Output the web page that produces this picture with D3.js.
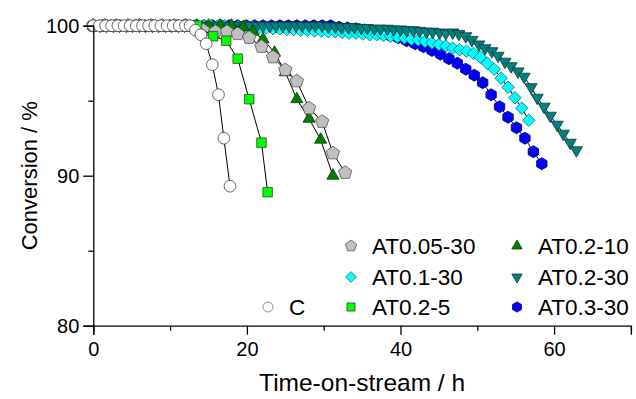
<!DOCTYPE html>
<html>
<head>
<meta charset="utf-8">
<script src="https://cdn.jsdelivr.net/npm/d3@7"></script>
<style>
  html, body { margin: 0; padding: 0; background: #fff; }
  svg { display: block; }
  text { font-family: "Liberation Sans", Arial, sans-serif; fill: #000; }
</style>
</head>
<body>
<svg id="chart" width="636" height="399"></svg>
<script>
// ---------------- DATA ----------------
const xTicks = [0, 20, 40, 60];
const xMinorTicks = [10, 30, 50, 70];
const yTicks = [80, 90, 100];
const yMinorTicks = [85, 95];

// C (white circles)
const tC = [0,0.8,1.6,2.4,3.2,4.0,4.8,5.6,6.4,7.2,8.0,8.8,9.6,10.4,11.2,12.0,12.6,13.3,14.0,14.7,15.5,16.3,17.0,17.8];
const vC = [100,100,100,100,100,100,100,100,100,100,100,100,100,100,100,100,100,99.7,99.4,98.8,97.4,95.4,92.5,89.3];

// AT0.2-5 (green squares)
const tAT02_5 = [0,1.5,3,4.5,6,7.5,9,10.5,12,13.5,15.6,17.3,18.8,20.3,21.9,22.7];
const vAT02_5 = [100,100,100,100,100,100,100,100,100,100,99.3,99.0,97.8,95.1,92.2,88.9];

// AT0.05-30 (grey pentagons)
const tAT005_30 = [0,1.5,3,4.5,6,7.5,9,10.5,12,14.3,15.9,17.4,18.8,20.3,21.9,23.4,25.0,26.5,28.1,29.8,31.2,32.8];
const vAT005_30 = [100,100,100,100,100,100,100,100,100,99.7,99.6,99.6,99.45,99.2,98.6,97.9,97.05,96.3,94.5,93.6,91.5,90.2];

// AT0.2-10 (dark green triangles)
const tAT02_10 = [0,1.5,3,4.5,6,7.5,9,10.5,12,13.5,15,16.5,18,19.5,20.8,22.1,23.6,25.0,26.5,28.1,29.6,31.2];
const vAT02_10 = [100,100,100,100,100,100,100,100,100,100,100,100,100,99.9,99.6,99.1,98.2,96.9,95.1,93.8,92.4,90.0];

// AT0.1-30 (cyan diamonds)
const tAT01_30 = [0,0.9,1.8,2.7,3.6,4.5,5.4,6.3,7.2,8.1,9.0,9.9,10.8,11.7,12.6,13.5,14.4,15.3,16.2,17.1,18.0,18.9,19.8,20.7,21.6,22.5,23.4,24.3,25.2,26.1,27.0,27.9,28.8,29.7,30.6,31.5,32.4,33.3,34.2,35.1,36.0,36.9,37.8,38.7,39.6,40.5,41.4,42.3,43.2,44.1,45.0,45.9,46.8,47.7,48.6,49.5,50.4,51.3,52.2,53.1,54.0,54.9,55.8,56.7];
const vAT01_30 = [100,100,100,100,100,100,100,100,100,100,100,100,100,100,100,100,100,100,100,100,100,99.95,99.9,99.9,99.85,99.85,99.8,99.8,99.75,99.75,99.7,99.7,99.65,99.65,99.6,99.6,99.55,99.5,99.5,99.45,99.4,99.4,99.35,99.3,99.25,99.2,99.1,99.05,98.95,98.85,98.75,98.65,98.5,98.4,98.3,98.15,97.9,97.5,97.1,96.5,95.9,95.2,94.5,93.7];

// AT0.2-30 (teal down triangles)
const tAT02_30 = [0,0.9,1.7,2.6,3.4,4.3,5.1,6.0,6.8,7.7,8.5,9.4,10.2,11.1,11.9,12.8,13.6,14.5,15.3,16.2,17.0,17.9,18.7,19.6,20.4,21.3,22.1,23.0,23.8,24.7,25.5,26.4,27.2,28.1,28.9,29.8,30.6,31.5,32.3,33.2,34.0,34.9,35.7,36.6,37.4,38.3,39.1,40.0,40.8,41.7,42.5,43.4,44.2,45.1,45.9,46.8,47.6,48.5,49.3,50.2,51.0,51.9,52.7,53.6,54.4,55.3,56.1,57.0,57.8,58.7,59.5,60.4,61.2,62.1,62.9];
const vAT02_30 = [100,100,100,100,100,100,100,100,100,100,100,100,100,100,100,100,100,100,100,100,100,100,100,100,100,100,100,100,100,100,100,100,100,100,100,100,99.95,99.95,99.9,99.9,99.9,99.85,99.85,99.8,99.8,99.8,99.75,99.75,99.7,99.7,99.65,99.6,99.6,99.55,99.5,99.55,99.45,99.3,99.05,98.75,98.5,98.3,98.0,97.6,97.3,96.95,96.6,95.9,95.2,94.6,94.0,93.4,92.8,92.2,91.7];

// AT0.3-30 (blue hexagons)
const tAT03_30 = [0.1,1.2,2.3,3.4,4.5,5.6,6.7,7.8,8.9,10.0,11.1,12.2,13.3,14.4,15.5,16.6,17.7,18.8,19.9,21.0,22.1,23.2,24.3,25.4,26.5,27.6,28.7,29.8,30.9,32.0,33.1,34.2,35.3,36.4,37.5,38.6,39.7,40.8,41.9,43.0,44.1,45.2,46.3,47.4,48.5,49.6,50.7,51.8,52.9,54.0,55.1,56.2,57.3,58.4];
const vAT03_30 = [100,100,100,100,100,100,100,100,100,100,100,100,100,100,100,100,100,100,100,100,100,100,100,100,100,100,100,100,100,99.9,99.85,99.8,99.7,99.6,99.5,99.35,99.2,99.0,98.8,98.6,98.35,98.1,97.8,97.5,97.1,96.7,96.2,95.4,94.6,93.9,93.2,92.5,91.6,90.8];

// ---------------- DRAW ----------------
const svg = d3.select("#chart");
svg.append("rect").attr("width", 636).attr("height", 399).attr("fill", "#fff");

const x = d3.scaleLinear().domain([0, 70]).range([93.3, 630.9]);
const y = d3.scaleLinear().domain([80, 100]).range([325.7, 25.7]);

function poly(n, r, rot) {
  const pts = [];
  for (let i = 0; i < n; i++) {
    const a = rot + i * 2 * Math.PI / n;
    pts.push([r * Math.sin(a), -r * Math.cos(a)]);
  }
  return "M" + pts.map(p => p[0].toFixed(2) + "," + p[1].toFixed(2)).join("L") + "Z";
}
const shapes = {
  circle: s => poly(40, s, 0),
  square: s => poly(4, s * 0.72 * Math.SQRT2, Math.PI / 4),
  diamond: s => poly(4, s, 0),
  pentagon: s => poly(5, s, 0),
  triUp: s => poly(3, s, 0),
  triDown: s => poly(3, s, Math.PI),
  hexagon: s => poly(6, s, 0)
};

const series = [
  { name: "AT0.3-30", t: tAT03_30, v: vAT03_30, shape: "hexagon", size: 6.0, fill: "#0000ff", stroke: "#00006a" },
  { name: "AT0.1-30", t: tAT01_30, v: vAT01_30, shape: "diamond", size: 6.3, fill: "#00ffff", stroke: "#1a6a6a" },
  { name: "AT0.2-30", t: tAT02_30, v: vAT02_30, shape: "triDown", size: 7.0, fill: "#008080", stroke: "#0c3a3a" },
  { name: "AT0.2-10", t: tAT02_10, v: vAT02_10, shape: "triUp", size: 7.0, fill: "#008000", stroke: "#0a3a0a" },
  { name: "AT0.05-30", t: tAT005_30, v: vAT005_30, shape: "pentagon", size: 7.0, fill: "#c0c0c0", stroke: "#555" },
  { name: "AT0.2-5", t: tAT02_5, v: vAT02_5, shape: "square", size: 6.6, fill: "#00ff00", stroke: "#2a4a2a" },
  { name: "C", t: tC, v: vC, shape: "circle", size: 5.8, fill: "#ffffff", stroke: "#333" }
];

const line = d3.line().x(d => x(d[0])).y(d => y(d[1]));
const plot = svg.append("g");
series.forEach(s => {
  const pts = s.t.map((t, i) => [t, s.v[i]]);
  plot.append("path").attr("d", line(pts)).attr("fill", "none").attr("stroke", "#000").attr("stroke-width", 1);
  plot.append("g").selectAll("path").data(pts).join("path")
    .attr("transform", d => `translate(${x(d[0])},${y(d[1])})`)
    .attr("d", shapes[s.shape](s.size))
    .attr("fill", s.fill).attr("stroke", s.stroke).attr("stroke-width", 0.8);
});

// axes
const axisG = svg.append("g");
const xAxis = d3.axisBottom(x).tickValues(xTicks).tickSize(9).tickPadding(7).tickFormat(d3.format("d"));
const gx = axisG.append("g").attr("transform", `translate(0,${y(80)})`).call(xAxis);
const xMinor = d3.axisBottom(x).tickValues(xMinorTicks).tickSize(5).tickFormat("");
axisG.append("g").attr("transform", `translate(0,${y(80)})`).call(xMinor).select(".domain").remove();

const yAxis = d3.axisLeft(y).tickValues(yTicks).tickSize(10).tickPadding(4).tickFormat(d3.format("d"));
const gy = axisG.append("g").attr("transform", `translate(${x(0)},0)`).call(yAxis);
const yMinor = d3.axisLeft(y).tickValues(yMinorTicks).tickSize(5).tickFormat("");
axisG.append("g").attr("transform", `translate(${x(0)},0)`).call(yMinor).select(".domain").remove();

axisG.selectAll(".domain").attr("stroke", "#000").attr("stroke-width", 1.3);
axisG.selectAll(".tick line").attr("stroke", "#000").attr("stroke-width", 1.3);
axisG.selectAll(".tick text").attr("font-size", 20).attr("font-family", "Liberation Sans, Arial, sans-serif").attr("fill", "#000");

// axis titles
svg.append("text").attr("x", x(35)).attr("y", 391).attr("text-anchor", "middle").attr("font-size", 24.5).text("Time-on-stream / h");
svg.append("text").attr("transform", `translate(37,${y(90)}) rotate(-90)`).attr("text-anchor", "middle").attr("font-size", 22).text("Conversion / %");

// legend
const legendItems = [
  { s: series[4], lx: 351, ly: 246 },
  { s: series[1], lx: 351, ly: 277 },
  { s: series[5], lx: 351, ly: 307 },
  { s: series[3], lx: 517, ly: 246 },
  { s: series[2], lx: 517, ly: 277 },
  { s: series[0], lx: 517, ly: 307 },
  { s: series[6], lx: 268, ly: 307 }
];
const lg = svg.append("g");
legendItems.forEach(it => {
  lg.append("path").attr("transform", `translate(${it.lx},${it.ly})`)
    .attr("d", shapes[it.s.shape](it.s.size * 0.85))
    .attr("fill", it.s.fill).attr("stroke", it.s.stroke === "#333" ? "#666" : it.s.stroke).attr("stroke-width", 0.8);
  lg.append("text").attr("x", it.lx + 21).attr("y", it.ly + 8).attr("font-size", 22.5).text(it.s.name);
});
</script>
</body>
</html>
